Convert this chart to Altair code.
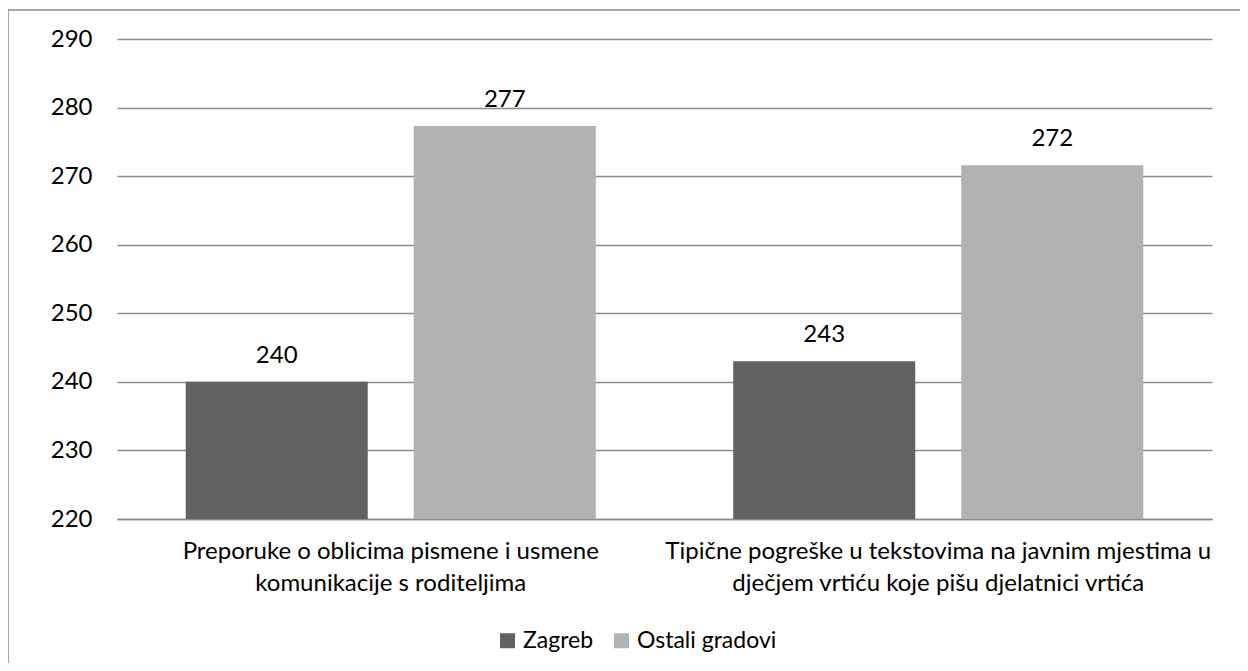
import altair as alt
import pandas as pd

categories = [
    "Preporuke o oblicima pismene i usmene|komunikacije s roditeljima",
    "Tipične pogreške u tekstovima na javnim mjestima u|dječjem vrtiću koje pišu djelatnici vrtića",
]
series = ["Zagreb", "Ostali gradovi"]
zagreb = [240.0, 243.0]
ostali = [277.3, 271.6]
y_ticks = [220, 230, 240, 250, 260, 270, 280, 290]
colors = ["#626262", "#b2b2b2"]

rows = []
for i, c in enumerate(categories):
    rows.append({"cat": c, "series": series[0], "value": zagreb[i]})
    rows.append({"cat": c, "series": series[1], "value": ostali[i]})
df = pd.DataFrame(rows)

FONT = "Lato"
FS = 24
GRID = "#8a8a8a"

x_enc = alt.X(
    "cat:N",
    sort=categories,
    title=None,
    scale=alt.Scale(paddingInner=0.251, paddingOuter=0.1255),
    axis=alt.Axis(
        labelExpr="split(datum.label, '|')",
        labelAngle=0,
        labelFont=FONT,
        labelFontSize=FS,
        labelLineHeight=32,
        labelPadding=20,
        labelColor="black",
        labelBaseline="top",
        ticks=False,
        domain=True,
        domainColor=GRID,
        domainWidth=1.5,
        grid=False,
        labelLimit=0,
    ),
)
y_enc = alt.Y(
    "value:Q",
    title=None,
    scale=alt.Scale(domain=[220, 290], nice=False, zero=False),
    axis=alt.Axis(
        values=y_ticks,
        labelFont=FONT,
        labelFontSize=FS,
        labelColor="black",
        labelPadding=25,
        ticks=False,
        domain=False,
        grid=True,
        gridColor=GRID,
        gridWidth=1.5,
    ),
)
xoff = alt.XOffset(
    "series:N",
    sort=series,
    scale=alt.Scale(paddingInner=0.2018, paddingOuter=0),
)
color = alt.Color(
    "series:N",
    sort=series,
    scale=alt.Scale(domain=series, range=colors),
    legend=alt.Legend(
        title=None,
        orient="none",
        direction="horizontal",
        legendX=379,
        legendY=590,
        symbolType="square",
        symbolSize=225,
        symbolStrokeWidth=0,
        symbolOpacity=1,
        labelFont=FONT,
        labelFontSize=23,
        labelColor="black",
        labelOffset=4,
        columnPadding=16,
        padding=0,
    ),
)

base = alt.Chart(df)
bars = base.mark_bar(opacity=1, clip=True).encode(x=x_enc, y=y_enc, xOffset=xoff, color=color)
labels = base.mark_text(
    font=FONT, fontSize=FS, color="black", baseline="alphabetic", dy=-19
).encode(
    x=alt.X("cat:N", sort=categories),
    y="value:Q",
    xOffset=alt.XOffset("series:N", sort=series),
    text=alt.Text("value:Q", format=".0f"),
)

border = alt.Chart(alt.Data(values=[{"a": 1}])).mark_rect(
    filled=False, stroke=GRID, strokeWidth=1.5, clip=False
).encode(
    x=alt.value(-109),
    x2=alt.value(1400),
    y=alt.value(-29),
    y2=alt.value(900),
)

chart = (
    alt.layer(border, bars, labels)
    .properties(
        width=1095,
        height=480,
        padding={"left": 109, "top": 31, "right": 28, "bottom": 144},
        autosize=alt.AutoSizeParams(type="none"),
        background="white",
    )
    .configure_view(stroke=None)
)

chart.save("out.html", embed_options={"renderer": "svg", "actions": False})
